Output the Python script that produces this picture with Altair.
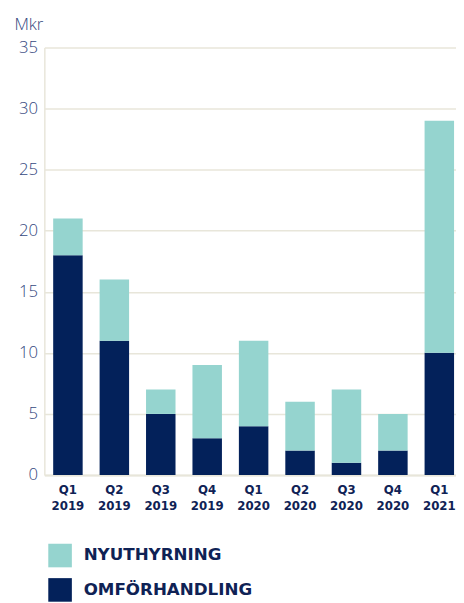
import altair as alt
import pandas as pd

kvartal = ["Q1 2019", "Q2 2019", "Q3 2019", "Q4 2019", "Q1 2020",
           "Q2 2020", "Q3 2020", "Q4 2020", "Q1 2021"]
omforhandling = [18, 11, 5, 3, 4, 2, 1, 2, 10]
nyuthyrning = [3, 5, 2, 6, 7, 4, 6, 3, 19]
serier = ["NYUTHYRNING", "OMFÖRHANDLING"]
farger = ["#95d4cf", "#03215a"]

rows = []
for k, o, n in zip(kvartal, omforhandling, nyuthyrning):
    rows.append({"kvartal": k, "serie": "OMFÖRHANDLING", "mkr": o, "ordning": 0})
    rows.append({"kvartal": k, "serie": "NYUTHYRNING", "mkr": n, "ordning": 1})
df = pd.DataFrame(rows)

navy = "#0f2255"
grid = "#e8e6da"

chart = alt.Chart(df).mark_bar().encode(
    x=alt.X("kvartal:N", sort=kvartal,
            scale=alt.Scale(paddingInner=0.365, paddingOuter=0.116, align=0.82),
            axis=alt.Axis(title=None, labelAngle=0, labelExpr="split(datum.label, ' ')",
                          labelFont="DejaVu Sans", labelFontWeight="bold", labelFontSize=12,
                          labelColor=navy, labelLineHeight=16, labelPadding=10,
                          ticks=False, domainColor=grid, domainWidth=2, grid=False)),
    y=alt.Y("mkr:Q", stack="zero",
            scale=alt.Scale(domain=[0, 35]),
            axis=alt.Axis(values=[0, 5, 10, 15, 20, 25, 30, 35], title="Mkr",
                          titleAngle=0, titleAlign="left", titleBaseline="alphabetic",
                          titleX=-31, titleY=-18, titleFont="Open Sans", titleFontWeight=300,
                          titleFontSize=17, titleColor="#34487e",
                          labelFont="Open Sans", labelFontWeight=300, labelFontSize=17,
                          labelColor="#34487e", labelPadding=7, ticks=False,
                          domainColor=grid, domainWidth=1.5,
                          gridColor=grid, gridWidth=1.5)),
    color=alt.Color("serie:N", scale=alt.Scale(domain=serier, range=farger),
                    legend=alt.Legend(title=None, orient="none", legendX=4, legendY=505,
                                      symbolType="square", symbolSize=576,
                                      symbolStrokeWidth=0, symbolOpacity=1,
                                      labelFont="DejaVu Sans", labelFontWeight="bold",
                                      labelFontSize=17, labelColor=navy, labelOffset=12,
                                      labelLimit=300, rowPadding=11)),
    order=alt.Order("ordning:Q", sort="ascending"),
).properties(
    width=419, height=435,
    autosize=alt.AutoSizeParams(type="none"),
    padding={"left": 37, "top": 35, "right": 0, "bottom": 125},
).configure_view(stroke=None)

chart.save("out.html", embed_options={"renderer": "svg", "actions": False})
